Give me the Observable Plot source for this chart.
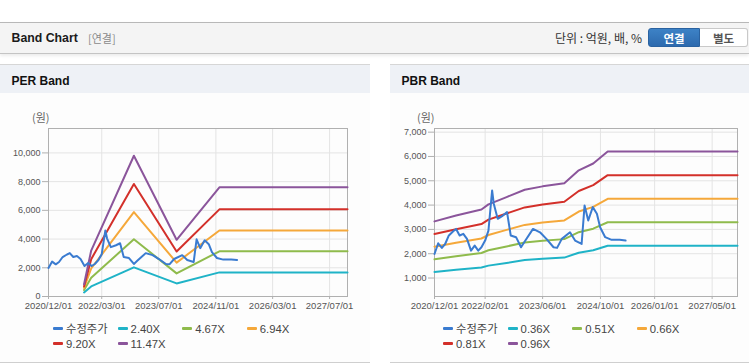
<!DOCTYPE html>
<html>
<head>
<meta charset="utf-8">
<script src="https://cdn.jsdelivr.net/npm/d3@7"></script>
<script src="https://cdn.jsdelivr.net/npm/@observablehq/plot@0.6"></script>
<style>
  html, body { margin: 0; padding: 0; background: #fff; }
  body { width: 749px; height: 364px; position: relative; overflow: hidden;
         font-family: "Liberation Sans", Arial, "Noto Sans CJK KR", sans-serif; }
  .abs { position: absolute; }
  .topbar { left: 0; top: 22px; width: 749px; height: 30px; background: #f4f4f4;
            border-top: 1px solid #b8b8b8; border-bottom: 1px solid #c4c4c4;
            box-shadow: 0 2px 3px rgba(0,0,0,0.08); }
  .title { font-weight: bold; font-size: 12.3px; color: #1a1a1a; line-height: 14px; }
  .sub { font-size: 11px; color: #8a8a8a; line-height: 14px; font-family: "Noto Sans CJK KR", sans-serif; }
  .unit { font-size: 12px; color: #333; line-height: 14px; font-family: "Noto Sans CJK KR", sans-serif; white-space: nowrap; }
  .btn { top: 28px; height: 19px; line-height: 19px; text-align: center; font-size: 11.5px;
         font-family: "Noto Sans CJK KR", sans-serif; font-weight: bold; box-sizing: border-box; }
  .panel { top: 64px; height: 299px; background: #fdfdfd; border-top: 1px solid #d6d6d6;
           border-bottom: 1px solid #cfcfcf; box-sizing: border-box; }
  .phead { left: 0; top: 0; right: 0; height: 28px; background: #eef1f6; }
  .ptitle { left: 11.5px; top: 9px; font-weight: bold; font-size: 12px; color: #111; line-height: 14px; }
  .unitlab { font-size: 11px; color: #666; font-family: "Noto Sans CJK KR", sans-serif; line-height: 12px; }
  .leg { font-size: 11.3px; color: #444; line-height: 13px; white-space: nowrap;
         font-family: "Liberation Sans", Arial, "Noto Sans CJK KR", sans-serif; }
  .sw { display: inline-block; width: 10px; height: 3px; border-radius: 1px; vertical-align: middle;
        margin-right: 3px; position: relative; top: -1px; }
</style>
</head>
<body>
<script>
// ---------- data ----------
const priceDates = ["2020-12-01","2021-01-01","2021-02-01","2021-03-01","2021-04-01","2021-05-08","2021-06-01","2021-07-01","2021-08-01","2021-09-01","2021-10-05","2021-11-05","2021-12-05","2022-01-01","2022-02-01","2022-03-01","2022-04-01","2022-04-15","2022-05-18","2022-07-01","2022-08-05","2022-09-05","2022-10-20","2022-12-01","2023-01-01","2023-03-12","2023-05-10","2023-07-03","2023-09-01","2023-10-01","2023-11-10","2024-01-18","2024-03-01","2024-04-25","2024-05-20","2024-06-20","2024-07-28","2024-09-01","2024-09-28","2024-11-10","2025-01-03","2025-03-12","2025-05-01"];
const priceValues = [1990,2430,2240,2400,2750,2925,3020,2750,2815,2610,2125,2335,2125,2265,2540,2950,4600,4055,3435,3570,3710,2750,2680,2265,2500,3020,2880,2610,2265,2240,2610,2880,2540,2400,3985,3365,3915,3640,3090,2680,2570,2570,2540];

const perDates = ["2021-10-01","2021-12-01","2022-12-01","2023-12-01","2024-12-01","2027-12-01"];
const perLabels = ["2.40X","4.67X","6.94X","9.20X","11.47X"];
const per240  = [280, 700, 2030, 910, 1680, 1680];
const per467  = [450, 1300, 3990, 1610, 3150, 3150];
const per694  = [600, 1950, 5880, 2360, 4600, 4600];
const per920  = [700, 2600, 7840, 3130, 6070, 6070];
const per1147 = [850, 3200, 9800, 3950, 7600, 7600];

const pbrDates = ["2020-12-01","2021-06-01","2022-01-01","2022-03-01","2022-08-01","2023-01-01","2023-06-01","2023-12-01","2024-04-01","2024-08-01","2024-12-01","2027-12-01"];
const pbrLabels = ["0.36X","0.51X","0.66X","0.81X","0.96X"];
const pbr036 = [1250, 1340, 1430, 1510, 1620, 1740, 1790, 1840, 2040, 2140, 2325, 2325];
const pbr051 = [1770, 1900, 2030, 2140, 2300, 2460, 2530, 2600, 2885, 3030, 3295, 3295];
const pbr066 = [2290, 2455, 2625, 2770, 2980, 3185, 3280, 3370, 3735, 3925, 4260, 4260];
const pbr081 = [2810, 3010, 3220, 3400, 3655, 3905, 4025, 4135, 4580, 4820, 5230, 5230];
const pbr096 = [3330, 3570, 3820, 4030, 4330, 4630, 4770, 4900, 5430, 5710, 6200, 6200];

const perXTicks = ["2020-12-01","2022-03-01","2023-07-01","2024-11-01","2026-03-01","2027-07-01"];
const pbrXTicks = ["2020-12-01","2022-02-01","2023-06-01","2024-10-01","2026-01-01","2027-05-01"];
const perYTicks = [0, 2000, 4000, 6000, 8000, 10000];
const pbrYTicks = [1000, 2000, 3000, 4000, 5000, 6000, 7000];

const priceName = "수정주가";
const colors = ["#3a7bd0", "#1fb3c7", "#8fbb4c", "#f5a83a", "#d3302a", "#8b559b"];

// ---------- layout ----------
const body = document.body;
function el(cls, style, html) {
  const d = document.createElement("div");
  d.className = "abs " + cls;
  Object.assign(d.style, style);
  if (html != null) d.innerHTML = html;
  return d;
}
body.appendChild(el("topbar", {}));
body.appendChild(el("title", {left: "11.5px", top: "31px"}, "Band Chart"));
body.appendChild(el("sub", {left: "88px", top: "31px"}, "[연결]"));
body.appendChild(el("unit", {right: "107px", top: "31px"}, "단위 : 억원, 배, %"));
body.appendChild(el("btn", {left: "648px", width: "52px", background: "linear-gradient(#3d82c6,#2d6aae)", color: "#fff",
  borderRadius: "3px 0 0 3px", border: "1px solid #2a62a0"}, "연결"));
body.appendChild(el("btn", {left: "700px", width: "48px", background: "#fff", color: "#555",
  borderRadius: "0 3px 3px 0", border: "1px solid #c9c9c9", borderLeft: "none"}, "별도"));

function panel(left, width, title) {
  const p = el("panel", {left: left + "px", width: width + "px"});
  p.appendChild(el("phead", {}));
  p.appendChild(el("ptitle", {}, title));
  body.appendChild(p);
}
panel(0, 370, "PER Band");
panel(390, 359, "PBR Band");

body.appendChild(el("unitlab", {left: "32px", top: "111px"}, "(원)"));
body.appendChild(el("unitlab", {left: "417px", top: "111px"}, "(원)"));

// ---------- charts ----------
const parse = d3.utcParse("%Y-%m-%d");
const priceRows = priceDates.map((d, i) => ({date: parse(d), value: priceValues[i]}));

function rowsOf(dates, vals) { return dates.map((d, i) => ({date: parse(d), value: vals[i]})); }

function chart({bandDates, bandVals, xTicks, yTicks, yDomain, width, marginLeft, marginRight}) {
  const xt = xTicks.map(parse);
  const marks = [
    Plot.gridX(xt, {stroke: "#e4e4e4", strokeOpacity: 1}),
    Plot.gridY(yTicks, {stroke: "#e4e4e4", strokeOpacity: 1}),
    Plot.frame({stroke: "#b0b0b0"}),
    Plot.axisX(xt, {tickFormat: d3.utcFormat("%Y/%m/%d"), tickSize: 3, tickPadding: 3, stroke: "#b0b0b0",
      fill: "#555", fontSize: 9.5, label: null}),
    Plot.axisY(yTicks, {tickFormat: d3.format(","), tickSize: 6, tickPadding: 2, stroke: "#b0b0b0",
      fill: "#555", fontSize: 9, label: null})
  ];
  bandVals.forEach((vals, i) => {
    marks.push(Plot.line(rowsOf(bandDates, vals), {x: "date", y: "value", stroke: colors[i + 1],
      strokeWidth: 2, strokeLinejoin: "round"}));
  });
  marks.push(Plot.line(priceRows, {x: "date", y: "value", stroke: colors[0], strokeWidth: 2,
    strokeLinejoin: "round"}));
  return Plot.plot({
    width, height: 220, marginLeft, marginRight, marginTop: 28, marginBottom: 24,
    style: {fontFamily: "Liberation Sans, Arial, sans-serif", background: "transparent", overflow: "visible", color: "#555"},
    x: {type: "utc", domain: [parse("2020-12-01"), parse("2027-12-01")]},
    y: {domain: yDomain},
    marks
  });
}

const c1 = chart({bandDates: perDates, bandVals: [per240, per467, per694, per920, per1147],
  xTicks: perXTicks, yTicks: perYTicks, yDomain: [0, 11700], width: 370, marginLeft: 48, marginRight: 23});
c1.style.position = "absolute"; c1.style.left = "0px"; c1.style.top = "100px";
body.appendChild(c1);

const c2 = chart({bandDates: pbrDates, bandVals: [pbr036, pbr051, pbr066, pbr081, pbr096],
  xTicks: pbrXTicks, yTicks: pbrYTicks, yDomain: [240, 7150], width: 369, marginLeft: 54, marginRight: 12});
c2.style.position = "absolute"; c2.style.left = "380px"; c2.style.top = "100px";
body.appendChild(c2);

// ---------- legends ----------
function legend(x0, labels) {
  const names = [priceName].concat(labels);
  names.forEach((n, i) => {
    const row = i < 4 ? 0 : 1;
    const col = i % 4;
    const d = el("leg", {left: (x0 + col * 64.6) + "px", top: (row === 0 ? 322.5 : 337.5) + "px"},
      `<span class="sw" style="background:${colors[i]}"></span>${n}`);
    body.appendChild(d);
  });
}
legend(53, perLabels);
legend(443, pbrLabels);
</script>
</body>
</html>
